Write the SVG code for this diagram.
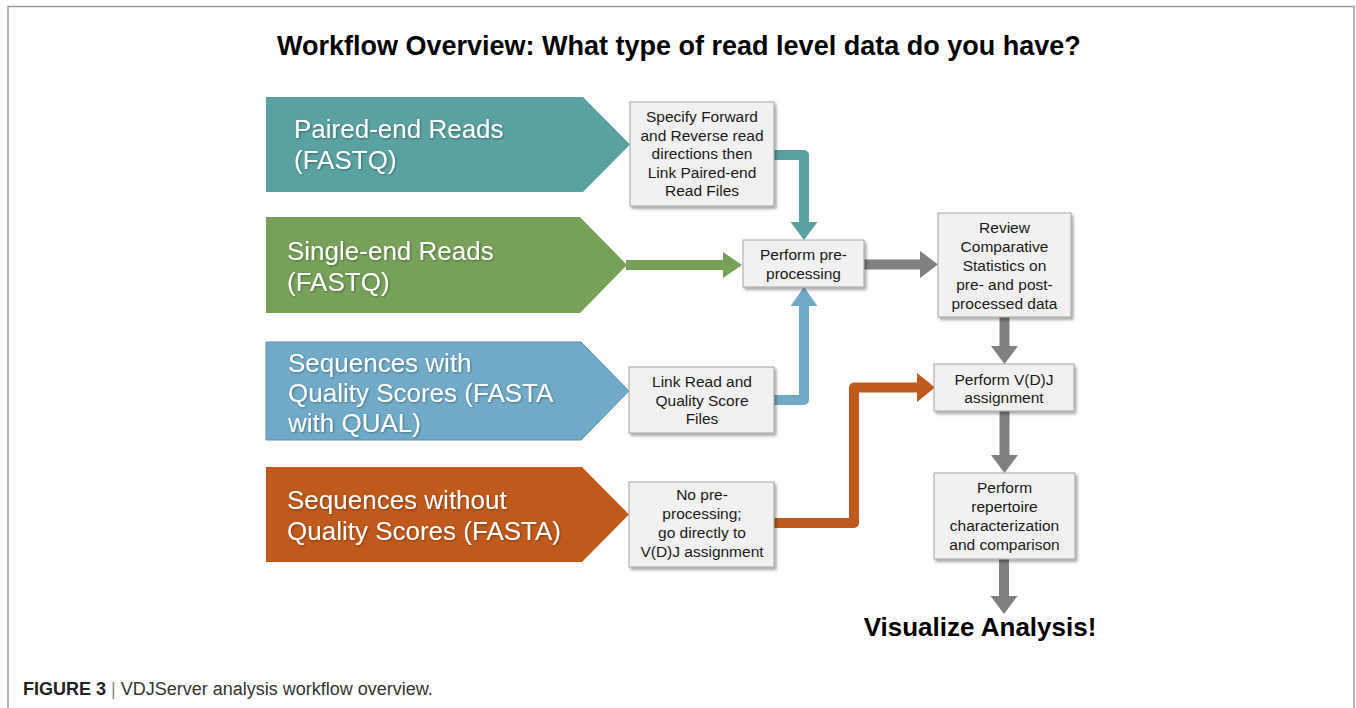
<svg xmlns="http://www.w3.org/2000/svg" width="1356" height="708" viewBox="0 0 1356 708">
  <defs>
    <style>
      .title { font-family: "Liberation Sans", Arial, sans-serif; font-weight: bold; font-size: 27px; fill: #000; }
      .big { font-family: "Liberation Sans", Arial, sans-serif; font-size: 26px; fill: #fff; }
      .box { fill: #f1f1f1; stroke: #a3a3a3; stroke-width: 1; }
      .btxt { font-family: "Liberation Sans", Arial, sans-serif; font-size: 15.5px; fill: #1a1a1a; text-anchor: middle; }
      .cap { font-family: "Liberation Sans", Arial, sans-serif; font-size: 18px; fill: #333; }
      .link { fill: none; stroke-width: 10; stroke-linejoin: round; stroke-linecap: butt; }
    </style>
    <filter id="shadow" x="-10%" y="-10%" width="125%" height="130%">
      <feDropShadow dx="2" dy="2.5" stdDeviation="1.5" flood-color="#000" flood-opacity="0.35"/>
    </filter>
    <filter id="tshadow" x="-5%" y="-20%" width="110%" height="150%">
      <feDropShadow dx="1" dy="1" stdDeviation="0.8" flood-color="#000" flood-opacity="0.35"/>
    </filter>
    <marker id="hTeal" markerUnits="userSpaceOnUse" viewBox="0 -14 18 28" refX="0" refY="0" markerWidth="18" markerHeight="28" orient="auto">
      <path d="M0,-13.5 L18,0 L0,13.5 z" fill="#5aa2a1"/>
    </marker>
    <marker id="hGreen" markerUnits="userSpaceOnUse" viewBox="0 -14 19 28" refX="0" refY="0" markerWidth="19" markerHeight="28" orient="auto">
      <path d="M0,-13 L19,0 L0,13 z" fill="#77a159"/>
    </marker>
    <marker id="hBlue" markerUnits="userSpaceOnUse" viewBox="0 -14 19 28" refX="0" refY="0" markerWidth="19" markerHeight="28" orient="auto">
      <path d="M0,-13.5 L19,0 L0,13.5 z" fill="#70aac7"/>
    </marker>
    <marker id="hOrange" markerUnits="userSpaceOnUse" viewBox="0 -15 18 30" refX="0" refY="0" markerWidth="18" markerHeight="30" orient="auto">
      <path d="M0,-14.5 L18,0 L0,14.5 z" fill="#c05a1c"/>
    </marker>
    <marker id="hGray" markerUnits="userSpaceOnUse" viewBox="0 -14 18 28" refX="0" refY="0" markerWidth="18" markerHeight="28" orient="auto">
      <path d="M0,-13.5 L18,0 L0,13.5 z" fill="#808080"/>
    </marker>
  </defs>

  <rect width="1356" height="708" fill="#fff"/>
  <!-- figure frame: top, left and right rules -->
  <path d="M8,708 V6.5 H1354 V708" fill="none" stroke="#9a9a9a" stroke-width="1.5"/>

  <text class="title" x="277" y="55">Workflow Overview: What type of read level data do you have?</text>

  <!-- connectors -->
  <g id="connectors">
    <path class="link" stroke="#5aa2a1" d="M774,155 H804 V222" marker-end="url(#hTeal)"/>
    <path class="link" stroke="#77a159" d="M626,265 H723" marker-end="url(#hGreen)"/>
    <path class="link" stroke="#70aac7" d="M774,400 H804 V306" marker-end="url(#hBlue)"/>
    <path class="link" stroke="#c05a1c" d="M774,523 H854 V387.5 H917" marker-end="url(#hOrange)"/>
    <path class="link" stroke="#808080" d="M864,264.5 H920" marker-end="url(#hGray)"/>
    <path class="link" stroke="#808080" d="M1004.5,317 V346" marker-end="url(#hGray)"/>
    <path class="link" stroke="#808080" d="M1004.5,411 V455" marker-end="url(#hGray)"/>
    <path class="link" stroke="#808080" d="M1004,559 V596" marker-end="url(#hGray)"/>
  </g>

  <!-- input data types -->
  <g id="paired-end">
    <polygon points="266,97 583,97 630,144.5 583,192 266,192" fill="#5aa2a1"/>
    <text class="big" filter="url(#tshadow)"><tspan x="294" y="138">Paired-end Reads</tspan><tspan x="294" y="169">(FASTQ)</tspan></text>
  </g>
  <g id="single-end">
    <polygon points="266,217 580,217 627,265 580,313 266,313" fill="#77a159"/>
    <text class="big" filter="url(#tshadow)"><tspan x="287" y="260">Single-end Reads</tspan><tspan x="287" y="291">(FASTQ)</tspan></text>
  </g>
  <g id="fasta-qual">
    <polygon points="266,342 581,342 629,391 581,440 266,440" fill="#70aac7" stroke="#5a8ea8" stroke-width="1"/>
    <text class="big" filter="url(#tshadow)"><tspan x="288" y="372">Sequences with</tspan><tspan x="288" y="402">Quality Scores (FASTA</tspan><tspan x="288" y="432">with QUAL)</tspan></text>
  </g>
  <g id="fasta">
    <polygon points="266,467 582,467 629,514.5 582,562 266,562" fill="#c05a1c"/>
    <text class="big" filter="url(#tshadow)"><tspan x="287" y="509">Sequences without</tspan><tspan x="287" y="540">Quality Scores (FASTA)</tspan></text>
  </g>

  <!-- processing steps -->
  <g id="link-paired">
    <rect class="box" x="630" y="102" width="144" height="104" filter="url(#shadow)"/>
    <text class="btxt"><tspan x="702" y="122">Specify Forward</tspan><tspan x="702" y="140.5">and Reverse read</tspan><tspan x="702" y="159">directions then</tspan><tspan x="702" y="177.5">Link Paired-end</tspan><tspan x="702" y="196">Read Files</tspan></text>
  </g>
  <g id="link-qual">
    <rect class="box" x="629" y="367" width="145" height="66" filter="url(#shadow)"/>
    <text class="btxt"><tspan x="702" y="387">Link Read and</tspan><tspan x="702" y="405.5">Quality Score</tspan><tspan x="702" y="424">Files</tspan></text>
  </g>
  <g id="no-preprocessing">
    <rect class="box" x="629" y="482" width="145" height="85" filter="url(#shadow)"/>
    <text class="btxt"><tspan x="702" y="499.5">No pre-</tspan><tspan x="702" y="518.5">processing;</tspan><tspan x="702" y="537.5">go directly to</tspan><tspan x="702" y="556.5">V(D)J assignment</tspan></text>
  </g>
  <g id="preprocess">
    <rect class="box" x="743" y="240" width="121" height="47" filter="url(#shadow)"/>
    <text class="btxt"><tspan x="803.5" y="260">Perform pre-</tspan><tspan x="803.5" y="278.5">processing</tspan></text>
  </g>
  <g id="review-stats">
    <rect class="box" x="938" y="213" width="133" height="104" filter="url(#shadow)"/>
    <text class="btxt"><tspan x="1004.5" y="232.5">Review</tspan><tspan x="1004.5" y="251.5">Comparative</tspan><tspan x="1004.5" y="270.5">Statistics on</tspan><tspan x="1004.5" y="289.5">pre- and post-</tspan><tspan x="1004.5" y="308.5">processed data</tspan></text>
  </g>
  <g id="vdj-assign">
    <rect class="box" x="934" y="364" width="140" height="47" filter="url(#shadow)"/>
    <text class="btxt"><tspan x="1004" y="384.5">Perform V(D)J</tspan><tspan x="1004" y="403">assignment</tspan></text>
  </g>
  <g id="repertoire">
    <rect class="box" x="934" y="473" width="141" height="86" filter="url(#shadow)"/>
    <text class="btxt"><tspan x="1004.5" y="493">Perform</tspan><tspan x="1004.5" y="512">repertoire</tspan><tspan x="1004.5" y="531">characterization</tspan><tspan x="1004.5" y="550">and comparison</tspan></text>
  </g>
  <g id="visualize">
    <text class="title" x="980" y="636" text-anchor="middle" style="font-size:26px">Visualize Analysis!</text>
  </g>

  <text class="cap" x="23" y="695"><tspan font-weight="bold" fill="#222">FIGURE 3</tspan><tspan fill="#888"> | </tspan>VDJServer analysis workflow overview.</text>
</svg>
